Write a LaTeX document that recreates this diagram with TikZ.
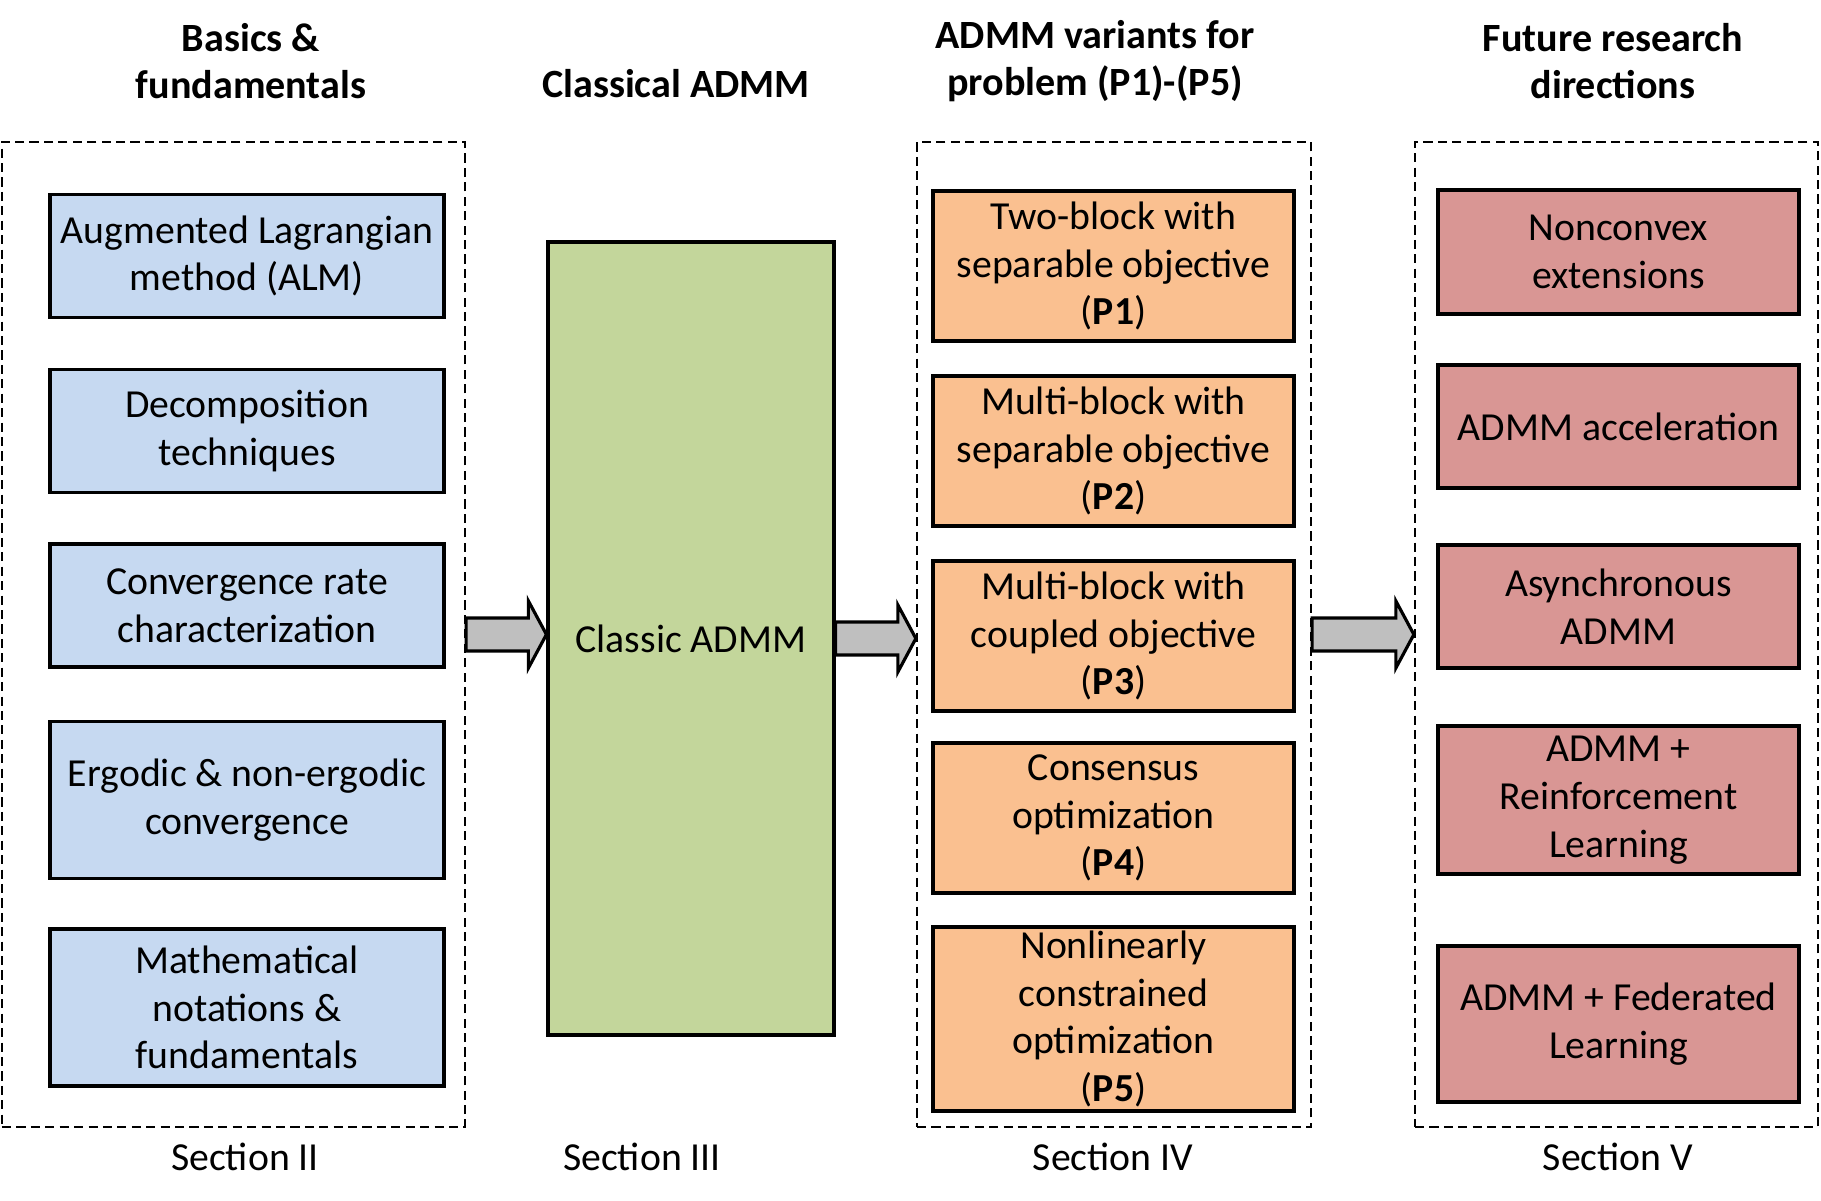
\documentclass[tikz,border=0pt]{standalone}
\usepackage{fontspec}
\setmainfont{Carlito}
\usetikzlibrary{calc}

\definecolor{basicblue}{HTML}{C6D9F1}
\definecolor{classicgreen}{HTML}{C3D69B}
\definecolor{variantorange}{HTML}{FAC090}
\definecolor{futurered}{HTML}{D99694}
\definecolor{arrowgray}{HTML}{BFBFBF}

\tikzset{
  boxsize/.style 2 args={minimum width=#1*0.01cm, minimum height=#2*0.01cm},
  topicbox/.style={draw, line width=0.9pt, align=center, inner sep=0pt},
  sectionbox/.style={draw, dashed, line width=0.65pt, dash pattern=on 2.6pt off 1.5pt, inner sep=0pt},
  header/.style={align=center, font=\fontsize{11.4}{13.4}\selectfont\bfseries},
  blockarrow/.style={draw, line width=0.9pt, fill=arrowgray, line join=miter}
}

% block arrow from one node to the next
\newcommand{\bigarrow}[2]{%
  \draw[blockarrow] let \p1=(#1.east), \p2=(#2.west) in
    (\x1,\y1+0.165cm) -- (\x2-0.18cm,\y1+0.165cm) -- (\x2-0.18cm,\y1+0.335cm)
    -- (\x2,\y1) -- (\x2-0.18cm,\y1-0.335cm) -- (\x2-0.18cm,\y1-0.165cm)
    -- (\x1,\y1-0.165cm) -- cycle;}

\begin{document}
\begin{tikzpicture}[x=0.01cm, y=-0.01cm, font=\fontsize{11.3}{13.6}\selectfont]
	\useasboundingbox (0,0) rectangle (1821,1201);

	% Titulos de columnas
	\node[header] (hbasics) at (251,61) {Basics \&\\fundamentals};
	\node[header] (hclassic) at (676,84) {Classical ADMM};
	\node[header] (hvariants) at (1095,61) {ADMM variants for\\problem (P1)-(P5)};
	\node[header] (hfuture) at (1613,61) {Future research\\directions};

	% Marcos de secciones
	\node[sectionbox, boxsize={463}{985}] (sec2) at (233.5,634.5) {};
	\node[sectionbox, boxsize={394}{985}] (sec4) at (1114,634.5) {};
	\node[sectionbox, boxsize={403}{985}] (sec5) at (1616.5,634.5) {};

	% Seccion II
	\node[topicbox, fill=basicblue, boxsize={394}{123}] (alm) at (247,256) {Augmented Lagrangian\\method (ALM)};
	\node[topicbox, fill=basicblue, boxsize={394}{123}] (decomp) at (247,431) {Decomposition\\techniques};
	\node[topicbox, fill=basicblue, boxsize={394}{123}] (convrate) at (247,605.5) {Convergence rate\\characterization};
	\node[topicbox, fill=basicblue, boxsize={394}{157}] (ergodic) at (247,800) {Ergodic \& non-ergodic\\convergence};
	\node[topicbox, fill=basicblue, boxsize={394}{157}] (mathnot) at (247,1007.5) {Mathematical\\notations \&\\fundamentals};

	% Seccion III
	\node[topicbox, fill=classicgreen, boxsize={286}{793}] (classic) at (691,638.5) {Classic ADMM};

	% Seccion IV
	\node[topicbox, fill=variantorange, boxsize={361}{150}] (pone) at (1113.5,266) {Two-block with\\separable objective\\(\textbf{P1})};
	\node[topicbox, fill=variantorange, boxsize={361}{150}] (ptwo) at (1113.5,451) {Multi-block with\\separable objective\\(\textbf{P2})};
	\node[topicbox, fill=variantorange, boxsize={361}{150}] (pthree) at (1113.5,636) {Multi-block with\\coupled objective\\(\textbf{P3})};
	\node[topicbox, fill=variantorange, boxsize={361}{150}] (pfour) at (1113.5,818) {Consensus\\optimization\\(\textbf{P4})};
	\node[topicbox, fill=variantorange, boxsize={361}{184}] (pfive) at (1113.5,1019) {Nonlinearly\\constrained\\optimization\\(\textbf{P5})};

	% Seccion V
	\node[topicbox, fill=futurered, boxsize={361}{124}] (nonconvex) at (1618.5,252) {Nonconvex\\extensions};
	\node[topicbox, fill=futurered, boxsize={361}{123}] (accel) at (1618.5,426.5) {ADMM acceleration};
	\node[topicbox, fill=futurered, boxsize={361}{123}] (async) at (1618.5,606.5) {Asynchronous\\ADMM};
	\node[topicbox, fill=futurered, boxsize={361}{148}] (rl) at (1618.5,800) {ADMM +\\Reinforcement\\Learning};
	\node[topicbox, fill=futurered, boxsize={361}{156}] (fl) at (1618.5,1024) {ADMM + Federated\\Learning};

	% Etiquetas de secciones
	\node (lbltwo) at (245,1157) {Section II};
	\node (lblthree) at (642,1157) {Section III};
	\node (lblfour) at (1113,1157) {Section IV};
	\node (lblfive) at (1618,1157) {Section V};

	% Flechas
	\bigarrow{sec2}{classic}
	\bigarrow{classic}{sec4}
	\bigarrow{sec4}{sec5}

\end{tikzpicture}
\end{document}
